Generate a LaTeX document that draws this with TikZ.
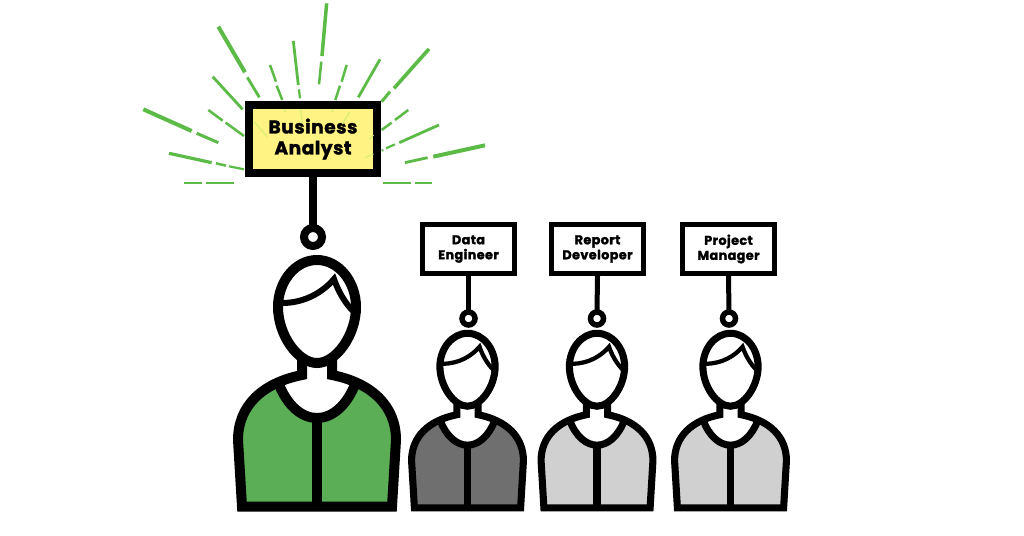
\documentclass[tikz,border=0pt]{standalone}
\usepackage{fontspec}
\setmainfont{Poppins}[BoldFeatures={FakeBold=1.6,LetterSpace=3}]
\definecolor{raygreen}{HTML}{5CBB46}
\definecolor{paleray}{HTML}{DDEE78}
\definecolor{tagyellow}{HTML}{FFF383}
\definecolor{bodygreen}{HTML}{5BAD56}
\definecolor{bodydark}{HTML}{6F6F6F}
\definecolor{bodylight}{HTML}{D0D0D0}
\tikzset{
  bigtag/.style={draw=black,line width=8pt,fill=tagyellow,minimum width=128pt,minimum height=68pt,inner sep=0pt,align=center,
    font=\fontsize{18.5}{21}\selectfont\bfseries},
  smalltag/.style={draw=black,line width=5pt,fill=white,minimum width=92pt,minimum height=49pt,inner sep=0pt,align=center,
    font=\fontsize{12.8}{15}\selectfont\bfseries},
  bigring/.style={circle,draw=black,line width=8pt,fill=white,minimum size=18pt,inner sep=0pt,outer sep=0pt},
  smallring/.style={circle,draw=black,line width=5.5pt,fill=white,minimum size=13pt,inner sep=0pt,outer sep=0pt},
  ray/.style={draw=raygreen,line cap=butt},
  pale/.style={draw=paleray,line width=1.5pt},
}
\newcommand{\personfig}[3]{%
  \begin{scope}[shift={(#1,511)},scale=#2]
    \pgfmathsetmacro{\lwA}{10*#2}
    \pgfmathsetmacro{\lwB}{6*#2}
    % torso
    \path[fill=#3] (-15,-136) .. controls (-55,-128) and (-79,-105) .. (-79,-71) -- (-75,-4.5) -- (75,-4.5) -- (79,-71) .. controls (79,-105) and (55,-128) .. (15,-136) -- cycle;
    % neck opening
    \path[fill=white] (-15,-151) -- (-15,-136) -- (-39,-129) .. controls (-30,-105) and (-15,-93) .. (0,-93) .. controls (15,-93) and (30,-105) .. (39,-129) -- (15,-136) -- (15,-151) -- cycle;
    \draw[line width=\lwA pt,line join=miter] (-15,-152) -- (-15,-136) .. controls (-55,-128) and (-79,-105) .. (-79,-71) -- (-75,-4.5) -- (75,-4.5) -- (79,-71) .. controls (79,-105) and (55,-128) .. (15,-136) -- (15,-152);
    \draw[line width=\lwA pt] (-39,-129) .. controls (-30,-105) and (-15,-93) .. (0,-93) .. controls (15,-93) and (30,-105) .. (39,-129);
    \draw[line width=\lwA pt] (0,-93) -- (0,-4.5);
    % head
    \draw[line width=\lwA pt,fill=white] (0,-251) .. controls (-22,-251) and (-39,-229) .. (-39,-204) .. controls (-39,-176) and (-19,-148) .. (0,-148) .. controls (19,-148) and (39,-176) .. (39,-204) .. controls (39,-229) and (22,-251) .. (0,-251) -- cycle;
    % hair
    \draw[line width=\lwB pt,line join=miter] (-35,-208) .. controls (-12,-208) and (6,-219) .. (17,-232) .. controls (21,-220) and (28,-208) .. (36,-200);
  \end{scope}%
}
\begin{document}
\begin{tikzpicture}[x=1pt,y=-1pt]
\useasboundingbox (0,0) rectangle (1024,535);
\fill[white] (0,0) rectangle (1024,535);
% rays
\begin{scope}[shift={(130,0)},x=0.3333pt,y=-0.3333pt]
\foreach \xa/\ya/\xb/\yb/\w in {
 590/10/576/168/3.5, 574/185/567/253/2.5,
 265/80/345/217/4, 352/232/388/292/2.8,
 248/230/338/328/2.8,
 420/195/438/245/2.5, 440/257/457/300/2.5,
 490/123/505/255/2.8, 507/268/510/295/2.2,
 650/195/635/245/2.5, 630/257/616/300/2.5,
 750/178/685/292/2.8,
 897/147/792/265/3.6, 780/275/755/305/3,
 835/330/795/360/2.5, 785/368/755/390/2.5,
 927/375/808/428/2.8, 795/433/768/445/2.2, 760/450/755/452/2,
 1065/436/910/470/4, 893/473/825/488/2.8,
 907/549/855/549/2.5, 843/549/760/549/2.5,
 40/328/185/393/4, 200/400/265/428/3,
 235/330/278/362/2.5, 287/368/342/408/2.5,
 117/460/245/488/3.2, 258/490/288/497/2.5, 297/499/342/508/2.2,
 163/549/215/549/2.5, 228/549/312/549/2.5}
 {\draw[ray,line width=\w pt] (\xa,\ya) -- (\xb,\yb);}
\end{scope}
% tags
\node[bigtag] (ba) at (313,139) {Business\\Analyst};
\begin{scope}[shift={(130,0)},x=0.3333pt,y=-0.3333pt]
\foreach \xa/\ya/\xb/\yb in {372/365/412/410, 462/328/467/337, 512/328/517/370, 610/328/604/337, 660/335/637/372, 730/405/718/418, 730/462/705/473}
 {\draw[pale] (\xa,\ya) -- (\xb,\yb);}
\end{scope}
\node[bigring] (bar) at (313,237) {};
\draw[line width=8pt] (ba.south) -- (bar.north);
\node[smalltag] (de) at (468.5,249) {Data\\Engineer};
\node[smalltag] (rd) at (597.5,249) {Report\\Developer};
\node[smalltag] (pm) at (728.5,249) {Project\\Manager};
\node[smallring] (der) at (468.5,318.5) {};
\node[smallring] (rdr) at (597,318.5) {};
\node[smallring] (pmr) at (729,318.5) {};
\draw[line width=5pt] (de.south) -- (der.north);
\draw[line width=5pt] (rd.south) -- (rdr.north);
\draw[line width=5pt] (pm.south) -- (pmr.north);
% people
\personfig{317}{1}{bodygreen}
\personfig{467.5}{0.708}{bodydark}
\personfig{597}{0.708}{bodylight}
\personfig{730.5}{0.708}{bodylight}
\end{tikzpicture}
\end{document}
